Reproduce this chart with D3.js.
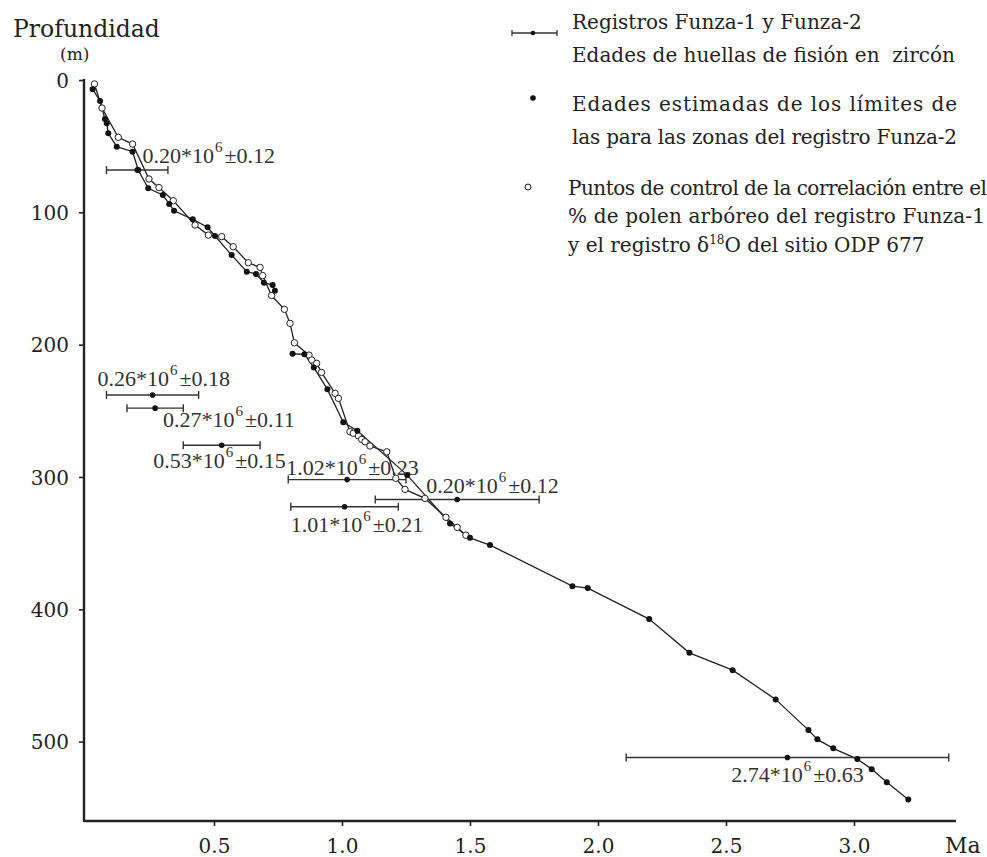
<!DOCTYPE html>
<html>
<head>
<meta charset="utf-8">
<script src="https://cdn.jsdelivr.net/npm/d3@7"></script>
<style>
body{ margin:0; background:#fff; }
svg{ display:block; }
text{ white-space:pre; }
</style>
</head>
<body>
<div id="chart"></div>
<script>
// filled dots: estimated ages of zone limits (null breaks the line)
var solidAge = [0.026, 0.055, 0.074, 0.081, 0.087, 0.12, 0.182, 0.204, 0.243, 0.30, 0.325, 0.344, 0.417, 0.475, 0.504, 0.569, 0.628, 0.664, 0.695, 0.729, 0.738,
    null,
    0.807, 0.853, 0.89, 0.943, 1.005, 1.06, 1.255, 1.422, 1.50, 1.578, 1.90, 1.96, 2.20, 2.357, 2.526, 2.694, 2.822, 2.857, 2.919, 3.013, 3.069, 3.128, 3.212];
var solidDepth = [7, 15.9, 29.5, 32.7, 40.3, 50.4, 54.2, 68, 81.9, 86.9, 93.7, 98.8, 105.3, 111.3, 117.9, 132.3, 144.9, 146.6, 153.2, 155, 159.3,
    null,
    206.9, 207.3, 217.2, 233.8, 258.7, 265.1, 298.6, 335.1, 346, 351.5, 382.5, 384, 407.4, 432.9, 446, 468.1, 491.3, 498.3, 505.1, 513.2, 520.8, 530.8, 543.7];

// open circles: pollen / d18O control points
var openAge = [0.033, 0.0625, 0.126, 0.182, 0.246, 0.285, 0.341, 0.426, 0.478, 0.53, 0.575, 0.634, 0.68, 0.69, 0.725, 0.775, 0.797, 0.814,
    0.871, 0.882, 0.901, 0.92, 0.973, 0.986, 1.031, 1.044, 1.064, 1.077, 1.09, 1.109, 1.175, 1.21, 1.246, 1.324, 1.406, 1.45, 1.484];
var openDepth = [3, 21.2, 43.3, 48.4, 74.8, 81.3, 91.2, 109.6, 117.2, 118.4, 126, 138.1, 141.6, 147.8, 162.9, 173.3, 183.9, 198.6,
    207.9, 211.6, 214.1, 221, 236.8, 240.6, 265.8, 267, 269, 271.6, 273.4, 276.6, 281, 301, 309.4, 316.2, 330.5, 338.1, 344];

// zircon fission track ages
var barAge = [0.20, 0.26, 0.27, 0.53, 1.02, 1.45, 1.01, 2.74];
var barErr = [0.12, 0.18, 0.11, 0.15, 0.23, 0.32, 0.21, 0.63];
var barDepth = [68, 238, 248, 276, 302, 317, 322.5, 512];
var barText = ['0.20', '0.26', '0.27', '0.53', '1.02', '0.20', '1.01', '2.74'];
var barErrText = ['0.12', '0.18', '0.11', '0.15', '0.23', '0.12', '0.21', '0.63'];

var xTicks = [0.5, 1.0, 1.5, 2.0, 2.5, 3.0];
var yTicks = [0, 100, 200, 300, 400, 500];

var legendText = [
    'Registros Funza-1 y Funza-2',
    'Edades de huellas de fisión en  zircón',
    'Edades estimadas de los límites de',
    'las para las zonas del registro Funza-2',
    'Puntos de control de la correlación entre el',
    '% de polen arbóreo del registro Funza-1'
];

// label placement relative to left end of each bar (px)
var labelShift = [[36, -7], [-9, -9], [36, 19], [-30, 23], [-2, -5], [51, -6], [0, 25], [105, 25]];

var width = 987, height = 857;
var ink = '#222';

var svg = d3.select('#chart').append('svg')
    .attr('width', width)
    .attr('height', height);

var x = d3.scaleLinear().domain([0, 3.4]).range([86, 956.4]);
var y = d3.scaleLinear().domain([0, 560]).range([80, 821]);

// axes
var xAxis = svg.append('g')
    .attr('transform', 'translate(0,821)')
    .call(d3.axisBottom(x).tickValues(xTicks).tickSize(5).tickPadding(13).tickFormat(d3.format('.1f')));
var yAxis = svg.append('g')
    .attr('transform', 'translate(84,0)')
    .call(d3.axisLeft(y).tickValues(yTicks).tickSize(5).tickPadding(10));

[xAxis, yAxis].forEach(function(g){
    g.select('.domain').remove();
    g.selectAll('line').attr('stroke', ink).attr('stroke-width', 1.6);
    g.selectAll('text')
        .attr('fill', ink)
        .style('font-family', '"DejaVu Serif", serif')
        .style('font-size', '20px');
});
yAxis.selectAll('text').attr('dy', '0.36em');

svg.append('line')
    .attr('x1', 84).attr('x2', 956).attr('y1', 821).attr('y2', 821)
    .attr('stroke', ink).attr('stroke-width', 2.4);
svg.append('line')
    .attr('x1', 84).attr('x2', 84).attr('y1', 79).attr('y2', 822)
    .attr('stroke', ink).attr('stroke-width', 2.4);

svg.append('text')
    .attr('x', 945).attr('y', 853)
    .attr('fill', ink)
    .style('font-family', '"DejaVu Serif", serif')
    .style('font-size', '22px')
    .text('Ma');
svg.append('text')
    .attr('x', 13).attr('y', 37)
    .attr('fill', ink)
    .style('font-family', '"DejaVu Serif", serif')
    .style('font-size', '23.5px')
    .text('Profundidad');
svg.append('text')
    .attr('x', 60).attr('y', 60)
    .attr('fill', ink)
    .style('font-family', '"DejaVu Serif", serif')
    .style('font-size', '17px')
    .text('(m)');

// build point lists
var solid = solidAge.map(function(a, i){ return {age: a, depth: solidDepth[i]}; });
var open = openAge.map(function(a, i){ return {age: a, depth: openDepth[i]}; });

var line = d3.line()
    .defined(function(d){ return d.age !== null; })
    .x(function(d){ return x(d.age); })
    .y(function(d){ return y(d.depth); });

svg.append('path')
    .datum(open)
    .attr('d', line)
    .attr('fill', 'none')
    .attr('stroke', ink)
    .attr('stroke-width', 1.3);
svg.append('path')
    .datum(solid)
    .attr('d', line)
    .attr('fill', 'none')
    .attr('stroke', ink)
    .attr('stroke-width', 1.3);

// error bars
var bars = barAge.map(function(a, i){
    return {age: a, err: barErr[i], depth: barDepth[i], txt: barText[i], errTxt: barErrText[i], shift: labelShift[i]};
});

var barG = svg.append('g').attr('stroke', '#333').attr('stroke-width', 1.4);
bars.forEach(function(b){
    var x0 = x(b.age - b.err), x1 = x(b.age + b.err), yy = y(b.depth);
    barG.append('line').attr('x1', x0).attr('x2', x1).attr('y1', yy).attr('y2', yy);
    barG.append('line').attr('x1', x0).attr('x2', x0).attr('y1', yy - 4).attr('y2', yy + 4);
    barG.append('line').attr('x1', x1).attr('x2', x1).attr('y1', yy - 4).attr('y2', yy + 4);
});
svg.selectAll('circle.bardot')
    .data(bars)
    .enter().append('circle')
        .attr('class', 'bardot')
        .attr('cx', function(d){ return x(d.age); })
        .attr('cy', function(d){ return y(d.depth); })
        .attr('r', 2.8)
        .attr('fill', '#111');

bars.forEach(function(b){
    var t = svg.append('text')
        .attr('x', x(b.age - b.err) + b.shift[0])
        .attr('y', y(b.depth) + b.shift[1])
        .attr('fill', '#333')
        .style('font-family', '"Liberation Serif", serif')
        .style('font-size', '22px');
    t.append('tspan').text(b.txt + '*10');
    t.append('tspan').attr('dx', 1).attr('dy', -11).style('font-size', '15px').text('6');
    t.append('tspan').attr('dx', 2).attr('dy', 11).text('±' + b.errTxt);
});

// points
svg.selectAll('circle.open')
    .data(open)
    .enter().append('circle')
        .attr('class', 'open')
        .attr('cx', function(d){ return x(d.age); })
        .attr('cy', function(d){ return y(d.depth); })
        .attr('r', 3.2)
        .attr('fill', '#fff')
        .attr('stroke', ink)
        .attr('stroke-width', 1);
svg.selectAll('circle.solid')
    .data(solid.filter(function(d){ return d.age !== null; }))
    .enter().append('circle')
        .attr('class', 'solid')
        .attr('cx', function(d){ return x(d.age); })
        .attr('cy', function(d){ return y(d.depth); })
        .attr('r', 3)
        .attr('fill', '#111');

// legend
var leg = svg.append('g')
    .attr('fill', ink)
    .style('font-family', '"DejaVu Serif", serif')
    .style('font-size', '20px');

leg.append('line').attr('x1', 512).attr('x2', 557).attr('y1', 33).attr('y2', 33).attr('stroke', '#333').attr('stroke-width', 1.3);
leg.append('line').attr('x1', 512).attr('x2', 512).attr('y1', 30).attr('y2', 36).attr('stroke', '#333').attr('stroke-width', 1.3);
leg.append('line').attr('x1', 557).attr('x2', 557).attr('y1', 30).attr('y2', 36).attr('stroke', '#333').attr('stroke-width', 1.3);
leg.append('circle').attr('cx', 533).attr('cy', 33).attr('r', 2.3).attr('fill', '#111');
leg.append('circle').attr('cx', 533).attr('cy', 98).attr('r', 2.8).attr('fill', '#111');
leg.append('circle').attr('cx', 528).attr('cy', 187).attr('r', 3).attr('fill', '#fff').attr('stroke', ink).attr('stroke-width', 1);

var legX = [572, 572, 572, 572, 568, 568];
var legY = [29, 62, 111, 144, 195, 223];
var legLen = [0, 0, 385, 385, 419, 417];

legendText.forEach(function(s, i){
    var t = leg.append('text').attr('x', legX[i]).attr('y', legY[i]).text(s);
    if(legLen[i]){
        t.attr('textLength', legLen[i]).attr('lengthAdjust', 'spacing');
    }
});

var last = leg.append('text').attr('x', 568).attr('y', 252);
last.append('tspan').text('y el registro δ');
last.append('tspan').attr('dy', -8).style('font-size', '12px').text('18');
last.append('tspan').attr('dy', 8).text('O del sitio ODP 677');
</script>
</body>
</html>
